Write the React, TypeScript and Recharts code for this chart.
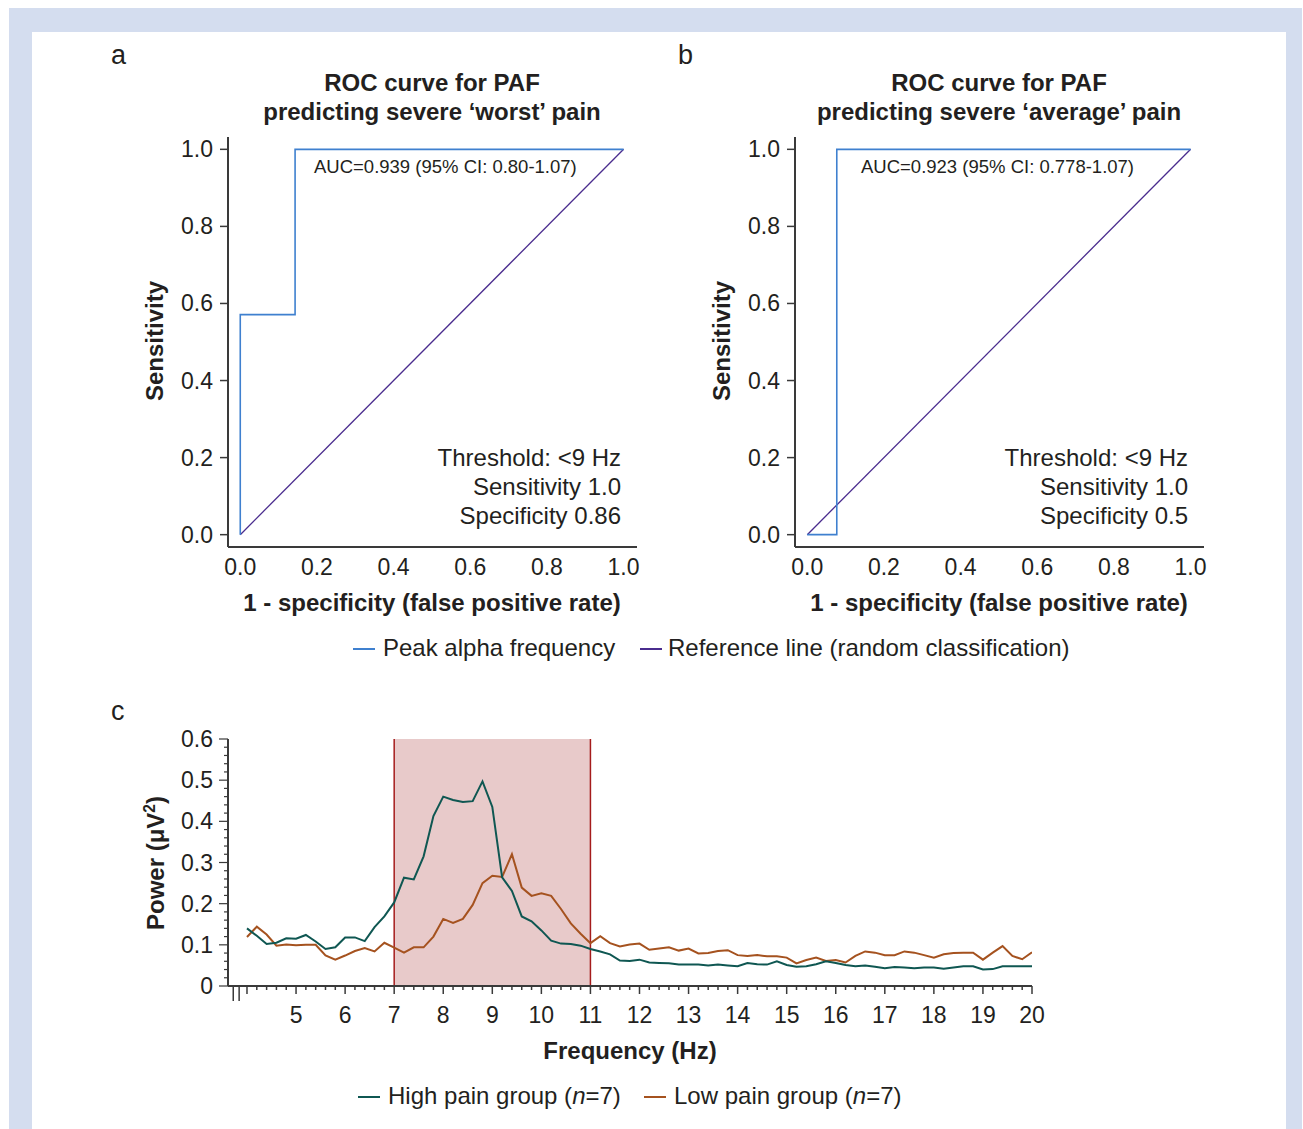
import React from "react";
import { LineChart, Line, XAxis, YAxis, ReferenceArea, ReferenceLine } from "recharts";

const FONT = '"Liberation Sans", Arial, Helvetica, sans-serif';
const INK = "#231f20";
const AXIS = "#3a3a3a";
const TICK_FS = 23;

// panel a: PAF predicting severe 'worst' pain
const worstFpr = [0, 0, 0.143, 0.143, 1];
const worstTpr = [0, 0.571, 0.571, 1, 1];
// panel b: PAF predicting severe 'average' pain
const avgFpr = [0, 0.077, 0.077, 1];
const avgTpr = [0, 0, 1, 1];
// random classification
const refFpr = [0, 1];
const refTpr = [0, 1];
const rocTicks = [0, 0.2, 0.4, 0.6, 0.8, 1.0];

// panel c: power spectrum
const freqHz = [
  4.0, 4.2, 4.4, 4.6, 4.8, 5.0, 5.2, 5.4, 5.6, 5.8, 6.0, 6.2, 6.4, 6.6, 6.8,
  7.0, 7.2, 7.4, 7.6, 7.8, 8.0, 8.2, 8.4, 8.6, 8.8, 9.0, 9.2, 9.4, 9.6, 9.8,
  10.0, 10.2, 10.4, 10.6, 10.8, 11.0, 11.2, 11.4, 11.6, 11.8, 12.0, 12.2, 12.4,
  12.6, 12.8, 13.0, 13.2, 13.4, 13.6, 13.8, 14.0, 14.2, 14.4, 14.6, 14.8, 15.0,
  15.2, 15.4, 15.6, 15.8, 16.0, 16.2, 16.4, 16.6, 16.8, 17.0, 17.2, 17.4, 17.6,
  17.8, 18.0, 18.2, 18.4, 18.6, 18.8, 19.0, 19.2, 19.4, 19.6, 19.8, 20.0,
];
const highPain = [
  0.140, 0.122, 0.102, 0.105, 0.116, 0.115, 0.124, 0.108, 0.090, 0.094, 0.118,
  0.118, 0.109, 0.143, 0.169, 0.203, 0.263, 0.259, 0.315, 0.413, 0.460, 0.452,
  0.447, 0.449, 0.497, 0.435, 0.264, 0.231, 0.169, 0.157, 0.135, 0.110, 0.103,
  0.102, 0.098, 0.090, 0.084, 0.077, 0.062, 0.061, 0.064, 0.057, 0.056, 0.055,
  0.052, 0.052, 0.052, 0.050, 0.052, 0.050, 0.048, 0.056, 0.053, 0.052, 0.060,
  0.051, 0.047, 0.048, 0.053, 0.060, 0.056, 0.051, 0.048, 0.050, 0.047, 0.043,
  0.046, 0.045, 0.043, 0.045, 0.045, 0.042, 0.045, 0.048, 0.048, 0.040, 0.041,
  0.048, 0.048, 0.048, 0.048,
];
const lowPain = [
  0.119, 0.144, 0.125, 0.098, 0.101, 0.099, 0.100, 0.100, 0.074, 0.064, 0.074,
  0.085, 0.092, 0.084, 0.105, 0.093, 0.081, 0.094, 0.094, 0.120, 0.163, 0.153,
  0.163, 0.197, 0.250, 0.268, 0.265, 0.320, 0.239, 0.219, 0.225, 0.219, 0.187,
  0.152, 0.127, 0.104, 0.121, 0.104, 0.096, 0.101, 0.103, 0.088, 0.091, 0.094,
  0.086, 0.091, 0.079, 0.080, 0.085, 0.087, 0.075, 0.073, 0.075, 0.072, 0.072,
  0.069, 0.055, 0.063, 0.069, 0.061, 0.063, 0.057, 0.073, 0.084, 0.081, 0.075,
  0.075, 0.084, 0.081, 0.075, 0.069, 0.077, 0.080, 0.081, 0.081, 0.064, 0.081,
  0.097, 0.073, 0.065, 0.082,
];
const freqLabels = [5, 6, 7, 8, 9, 10, 11, 12, 13, 14, 15, 16, 17, 18, 19, 20];
const breakTicks = [3.72, 3.84];
const powerTicks = [
  0, 0.02, 0.04, 0.06, 0.08, 0.1, 0.12, 0.14, 0.16, 0.18, 0.2, 0.22, 0.24, 0.26,
  0.28, 0.3, 0.32, 0.34, 0.36, 0.38, 0.4, 0.42, 0.44, 0.46, 0.48, 0.5, 0.52,
  0.54, 0.56, 0.58, 0.6,
];
const powerLabels = [0, 0.1, 0.2, 0.3, 0.4, 0.5, 0.6];
const alphaBand = [7, 11];

const toPts = (xs: number[], ys: number[]) => xs.map((x, i) => ({ x, y: ys[i] }));
const near = (list: number[], v: number) => list.some((l) => Math.abs(l - v) < 1e-6);

function RocXTick(props: any) {
  const { x, y, payload } = props;
  return (
    <text x={x} y={y + 20} textAnchor="middle" dominantBaseline="central" fontSize={TICK_FS} fill={INK} fontFamily={FONT}>
      {payload.value.toFixed(1)}
    </text>
  );
}

function RocYTick(props: any) {
  const { x, y, payload } = props;
  return (
    <g>
      <line x1={x - 8} x2={x} y1={y} y2={y} stroke={AXIS} strokeWidth={1.5} />
      <text x={x - 15} y={y} textAnchor="end" dominantBaseline="central" fontSize={TICK_FS} fill={INK} fontFamily={FONT}>
        {payload.value.toFixed(1)}
      </text>
    </g>
  );
}

function FreqTick(props: any) {
  const { x, y, payload } = props;
  const v = payload.value;
  const labelled = near(freqLabels, v);
  const len = v < 3.9 ? 15 : labelled || Math.abs(v - 4) < 1e-6 ? 8 : 4;
  return (
    <g>
      <line x1={x} x2={x} y1={y} y2={y + len} stroke={AXIS} strokeWidth={1.5} />
      {labelled && (
        <text x={x} y={y + 29} textAnchor="middle" dominantBaseline="central" fontSize={TICK_FS} fill={INK} fontFamily={FONT}>
          {v}
        </text>
      )}
    </g>
  );
}

function PowerTick(props: any) {
  const { x, y, payload } = props;
  const v = payload.value;
  const labelled = near(powerLabels, v);
  return (
    <g>
      <line x1={x - (labelled ? 9 : 4)} x2={x} y1={y} y2={y} stroke={AXIS} strokeWidth={1.2} />
      {labelled && (
        <text x={x - 15} y={y} textAnchor="end" dominantBaseline="central" fontSize={TICK_FS} fill={INK} fontFamily={FONT}>
          {v === 0 ? "0" : v.toFixed(1)}
        </text>
      )}
    </g>
  );
}

function Txt({ x, y, anchor = "start", size = 24, bold = false, rotate = false, children }: any) {
  const tx = anchor === "middle" ? "-50%" : anchor === "end" ? "-100%" : "0";
  return (
    <div
      style={{
        position: "absolute",
        left: x,
        top: y,
        transform: `translate(${tx}, -50%)${rotate ? " rotate(-90deg)" : ""}`,
        fontSize: size,
        fontWeight: bold ? 700 : 400,
        fontFamily: FONT,
        color: INK,
        whiteSpace: "nowrap",
        lineHeight: 1.15,
      }}
    >
      {children}
    </div>
  );
}

function Swatch({ x, y, color }: any) {
  return <div style={{ position: "absolute", left: x, top: y, width: 22, height: 1.5, background: color }} />;
}

function RocPanel({ left, fpr, tpr }: { left: number; fpr: number[]; tpr: number[] }) {
  return (
    <div style={{ position: "absolute", left, top: 120 }}>
      <LineChart width={560} height={480} margin={{ top: 17, right: 23, left: 68, bottom: 13 }}>
        <XAxis
          type="number"
          dataKey="x"
          domain={[-0.032, 1.035]}
          allowDataOverflow
          ticks={rocTicks}
          tick={<RocXTick />}
          tickLine={false}
          tickSize={0}
          tickMargin={0}
          height={40}
          axisLine={{ stroke: AXIS, strokeWidth: 2 }}
        />
        <YAxis
          type="number"
          dataKey="y"
          domain={[-0.032, 1.032]}
          allowDataOverflow
          ticks={rocTicks}
          tick={<RocYTick />}
          tickLine={false}
          tickSize={0}
          tickMargin={0}
          width={60}
          axisLine={{ stroke: AXIS, strokeWidth: 2 }}
        />
        <Line data={toPts(refFpr, refTpr)} dataKey="y" type="linear" stroke="#4a2c8e" strokeWidth={1.3} dot={false} isAnimationActive={false} />
        <Line data={toPts(fpr, tpr)} dataKey="y" type="linear" stroke="#3f80cf" strokeWidth={1.6} dot={false} isAnimationActive={false} />
      </LineChart>
    </div>
  );
}

export default function App() {
  const spectrum = freqHz.map((f, i) => ({ f, high: highPain[i], low: lowPain[i] }));
  return (
    <div style={{ position: "absolute", left: 0, top: 0, width: 1303, height: 1129, background: "#fff", overflow: "hidden" }}>
      <div style={{ position: "absolute", left: 9, top: 8, width: 1293, height: 1121, background: "#d4ddef" }} />
      <div style={{ position: "absolute", left: 32, top: 32, width: 1254, height: 1097, background: "#fff" }} />

      <Txt x={111} y={56} size={27}>a</Txt>
      <Txt x={678} y={56} size={27}>b</Txt>
      <Txt x={111} y={712} size={27}>c</Txt>

      <Txt x={432} y={83} anchor="middle" bold>ROC curve for PAF</Txt>
      <Txt x={432} y={112} anchor="middle" bold>predicting severe ‘worst’ pain</Txt>
      <Txt x={999} y={83} anchor="middle" bold>ROC curve for PAF</Txt>
      <Txt x={999} y={112} anchor="middle" bold>predicting severe ‘average’ pain</Txt>

      <RocPanel left={100} fpr={worstFpr} tpr={worstTpr} />
      <RocPanel left={667} fpr={avgFpr} tpr={avgTpr} />

      <Txt x={155} y={341} anchor="middle" bold rotate>Sensitivity</Txt>
      <Txt x={722} y={341} anchor="middle" bold rotate>Sensitivity</Txt>
      <Txt x={432} y={603} anchor="middle" bold>1 - specificity (false positive rate)</Txt>
      <Txt x={999} y={603} anchor="middle" bold>1 - specificity (false positive rate)</Txt>

      <Txt x={314} y={167} size={18.5}>AUC=0.939 (95% CI: 0.80-1.07)</Txt>
      <Txt x={861} y={167} size={18.5}>AUC=0.923 (95% CI: 0.778-1.07)</Txt>
      <Txt x={621} y={458} anchor="end">Threshold: &lt;9 Hz</Txt>
      <Txt x={621} y={487} anchor="end">Sensitivity 1.0</Txt>
      <Txt x={621} y={516} anchor="end">Specificity 0.86</Txt>
      <Txt x={1188} y={458} anchor="end">Threshold: &lt;9 Hz</Txt>
      <Txt x={1188} y={487} anchor="end">Sensitivity 1.0</Txt>
      <Txt x={1188} y={516} anchor="end">Specificity 0.5</Txt>

      <Swatch x={353} y={648} color="#3f80cf" />
      <Txt x={383} y={648}>Peak alpha frequency</Txt>
      <Swatch x={640} y={648} color="#4a2c8e" />
      <Txt x={668} y={648}>Reference line (random classification)</Txt>

      <div style={{ position: "absolute", left: 100, top: 700 }}>
        <LineChart width={960} height={360} data={spectrum} margin={{ top: 39, right: 28, left: 68, bottom: 34 }}>
          <ReferenceArea x1={alphaBand[0]} x2={alphaBand[1]} y1={0} y2={0.6} fill="#e8caca" fillOpacity={1} stroke="none" />
          <ReferenceLine x={alphaBand[0]} stroke="#a51c1c" strokeWidth={1.5} />
          <ReferenceLine x={alphaBand[1]} stroke="#a51c1c" strokeWidth={1.5} />
          <XAxis
            type="number"
            dataKey="f"
            domain={[3.613, 20]}
            allowDataOverflow
            ticks={[...breakTicks, ...freqHz]}
            interval={0}
            tick={<FreqTick />}
            tickLine={false}
            tickSize={0}
            tickMargin={0}
            height={40}
            axisLine={{ stroke: AXIS, strokeWidth: 2 }}
          />
          <YAxis
            type="number"
            domain={[0, 0.6]}
            allowDataOverflow
            ticks={powerTicks}
            interval={0}
            tick={<PowerTick />}
            tickLine={false}
            tickSize={0}
            tickMargin={0}
            width={60}
            axisLine={{ stroke: AXIS, strokeWidth: 2 }}
          />
          <Line dataKey="low" type="linear" stroke="#a5521f" strokeWidth={2} dot={false} isAnimationActive={false} />
          <Line dataKey="high" type="linear" stroke="#0f5752" strokeWidth={2} dot={false} isAnimationActive={false} />
        </LineChart>
      </div>

      <Txt x={155} y={863} anchor="middle" bold rotate>
        Power (μV<sup style={{ fontSize: "0.65em" }}>2</sup>)
      </Txt>
      <Txt x={630} y={1051} anchor="middle" bold>Frequency (Hz)</Txt>

      <Swatch x={358} y={1096} color="#0f5752" />
      <Txt x={388} y={1096}>
        High pain group (<i>n</i>=7)
      </Txt>
      <Swatch x={644} y={1096} color="#a5521f" />
      <Txt x={674} y={1096}>
        Low pain group (<i>n</i>=7)
      </Txt>
    </div>
  );
}
